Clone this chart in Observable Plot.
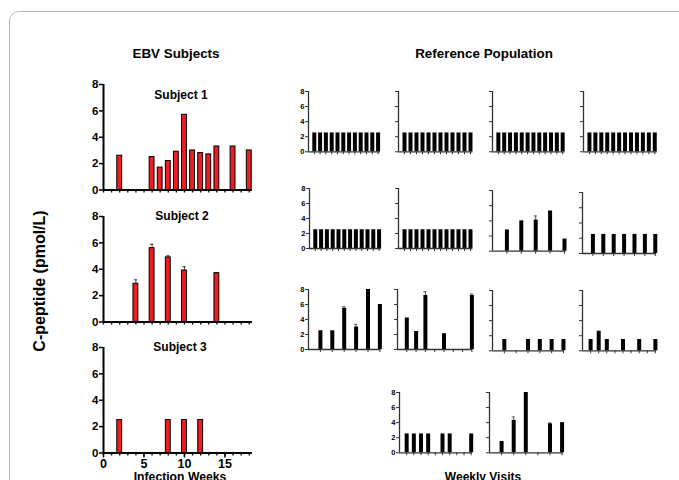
<!DOCTYPE html>
<html><head><meta charset="utf-8">
<script src="https://cdn.jsdelivr.net/npm/d3@7"></script>
<script src="https://cdn.jsdelivr.net/npm/@observablehq/plot@0.6"></script>
<style>
body{margin:0;background:#fff;}
#root{position:relative;width:679px;height:480px;overflow:hidden;background:#fff;font-family:Arial,"Liberation Sans",sans-serif;font-weight:bold;color:#000;}
.frame{position:absolute;left:9px;top:11px;width:720px;height:520px;border:1px solid #b5b5b5;border-radius:10px;}
.lbl{position:absolute;white-space:nowrap;transform:translate(-50%,-50%);line-height:1;}
.panel{position:absolute;}
</style></head><body><div id="root"><div class="frame"></div></div>
<script>
// ---------- DATA ----------
const subjectNames = ["Subject 1", "Subject 2", "Subject 3"];
const subject1Weeks = [2, 6, 7, 8, 9, 10, 11, 12, 13, 14, 16, 18];
const subject1Values = [2.6, 2.5, 1.7, 2.2, 2.9, 5.7, 3.0, 2.8, 2.7, 3.3, 3.3, 3.0];
const subject2Weeks = [4, 6, 8, 10, 14];
const subject2Values = [2.9, 5.6, 4.9, 3.9, 3.7];
const subject2Errors = [0.3, 0.3, 0.12, 0.3, 0.05];
const subject3Weeks = [2, 8, 10, 12];
const subject3Values = [2.5, 2.5, 2.5, 2.5];
const weekTicks = [0,1,2,3,4,5,6,7,8,9,10,11,12,13,14,15,16,17,18];
const weekLabels = [0, 5, 10, 15];
const yTicks = [0, 2, 4, 6, 8];

// Reference population: value per weekly visit (null = no sample)
const refR1C1 = [2.5,2.5,2.5,2.5,2.5,2.5,2.5,2.5,2.5,2.5,2.5,2.5];
const refR1C2 = [2.5,2.5,2.5,2.5,2.5,2.5,2.5,2.5,2.5,2.5,2.5,2.5];
const refR1C3 = [2.5,2.5,2.5,2.5,2.5,2.5,2.5,2.5,2.5,2.5,2.5,2.5];
const refR1C4 = [2.5,2.5,2.5,2.5,2.5,2.5,2.5,2.5,2.5,2.5,2.5,2.5];
const refR2C1 = [2.5,2.5,2.5,2.5,2.5,2.5,2.5,2.5,2.5,2.5,2.5,2.5];
const refR2C2 = [2.5,2.5,2.5,2.5,2.5,2.5,2.5,2.5,2.5,2.5,2.5,2.5];
const refR2C3 = [2.8, 4.0, 4.1, 5.3, 1.6];
const refR2C3Err = [0, 0, 0.55, 0, 0];
const refR2C4 = [2.5,2.5,2.5,2.5,2.5,2.5,2.5];
const refR3C1 = [2.5, 2.5, 5.5, 3.0, 8.0, 6.0];
const refR3C1Err = [0, 0, 0.2, 0.35, 0, 0];
const refR3C2 = [4.2, 2.4, 7.2, null, 2.1, null, null, 7.2];
const refR3C2Err = [0, 0, 0.5, 0, 0, 0, 0, 0.2];
const refR3C3 = [1.5, null, 1.5, 1.5, 1.5, 1.5];
const refR3C4 = [1.5, 2.6, 1.5, null, 1.5, null, 1.5, null, 1.5];
const refR4C2 = [2.5, 2.5, 2.5, 2.5, null, 2.5, 2.5, null, null, 2.5];
const refR4C3 = [1.5, 4.3, 8.0, null, 3.85, 4.0];
const refR4C3Err = [0, 0.45, 0, 0, 0.1, 0];

// ---------- HELPERS ----------
const root = document.getElementById("root");
const FONT = "Arial, 'Liberation Sans', sans-serif";
const SVG_STYLE = {background: "transparent", color: "#000", fontFamily: FONT, fontWeight: "bold", overflow: "visible", maxWidth: "none"};

function label(text, x, y, size, rotate) {
  const d = document.createElement("div");
  d.className = "lbl";
  d.textContent = text;
  d.style.left = x + "px";
  d.style.top = y + "px";
  d.style.fontSize = size + "px";
  if (rotate) d.style.transform = "translate(-50%,-50%) rotate(-90deg)";
  root.appendChild(d);
}

function place(svg, left, top) {
  const div = document.createElement("div");
  div.className = "panel";
  div.style.left = left + "px";
  div.style.top = top + "px";
  div.appendChild(svg);
  root.appendChild(div);
}

const mL = 30, mR = 8, mT = 6, mB = 22;

function subjectPanel(weeks, values, errors, left, top, showWeekLabels) {
  const data = weeks.map((w, i) => ({week: w, value: values[i], err: errors ? errors[i] : 0}));
  const errData = data.filter(d => d.err > 0);
  const xMax = 18.4, plotW = 149, plotH = 105.5;
  const svg = Plot.plot({
    width: mL + plotW + mR, height: mT + plotH + mB,
    marginLeft: mL, marginRight: mR, marginTop: mT, marginBottom: mB,
    x: {domain: [0, xMax], axis: null},
    y: {domain: [0, 8], axis: null},
    style: SVG_STYLE,
    marks: [
      Plot.ruleX(errData, {x: "week", y1: "value", y2: d => d.value + d.err, stroke: "#444", strokeWidth: 1}),
      Plot.ruleY(errData, {y: d => d.value + d.err, x1: d => d.week - 0.2, x2: d => d.week + 0.2, stroke: "#444", strokeWidth: 1}),
      Plot.rect(data, {x1: d => d.week - 0.3, x2: d => d.week + 0.3, y1: 0, y2: "value", fill: "#ee1c24", stroke: "#000", strokeWidth: 1}),
      Plot.axisY({ticks: yTicks, tickSize: 4, tickFormat: () => "", stroke: "#000", strokeWidth: 1.5, label: null, anchor: "left"}),
      Plot.text(yTicks, {x: 0, y: d => d, text: d => String(d), textAnchor: "end", dx: -5, fontSize: 11.5, fontWeight: "bold", fill: "#000"}),
      Plot.axisX({ticks: weekTicks, tickSize: 3, tickFormat: () => "", stroke: "#000", strokeWidth: 1.3, label: null, anchor: "bottom"}),
      showWeekLabels
        ? Plot.axisX({ticks: weekLabels, tickSize: 5, tickFormat: () => "", stroke: "#000", strokeWidth: 1.5, label: null, anchor: "bottom"})
        : null,
      showWeekLabels
        ? Plot.text(weekLabels, {x: d => d, y: 0, text: d => String(d), dy: 10.5, fontSize: 12.5, fontWeight: "bold", fill: "#000"})
        : null,
      Plot.ruleX([0], {y1: 0, y2: 8, stroke: "#000", strokeWidth: 2}),
      Plot.ruleY([0], {x1: 0, x2: xMax, stroke: "#000", strokeWidth: 2})
    ]
  });
  place(svg, left - mL, top - mT);
}

function refPanel(values, errors, left, top, plotH, step, xMax, showLabels) {
  const data = values.map((v, i) => ({visit: i + 1, value: v, err: errors ? errors[i] : 0}))
                     .filter(d => d.value != null);
  const errData = data.filter(d => d.err > 0);
  const visitTicks = values.map((v, i) => i + 1);
  const plotW = step * xMax;
  const svg = Plot.plot({
    width: mL + plotW + mR, height: mT + plotH + mB,
    marginLeft: mL, marginRight: mR, marginTop: mT, marginBottom: mB,
    x: {domain: [0, xMax], axis: null},
    y: {domain: [0, 8], axis: null},
    style: SVG_STYLE,
    marks: [
      Plot.ruleX(errData, {x: "visit", y1: "value", y2: d => d.value + d.err, stroke: "#555", strokeWidth: 1}),
      Plot.ruleY(errData, {y: d => d.value + d.err, x1: d => d.visit - 1.5 / step, x2: d => d.visit + 1.5 / step, stroke: "#555", strokeWidth: 1}),
      Plot.ruleX(data, {x: "visit", y1: 0, y2: "value", stroke: "#000", strokeWidth: 4}),
      Plot.axisY({ticks: yTicks, tickSize: 3, tickFormat: () => "", stroke: "#333", strokeWidth: 1, label: null, anchor: "left"}),
      showLabels
        ? Plot.text(yTicks, {x: 0, y: d => d, text: d => String(d), textAnchor: "end", dx: -4, fontSize: 7.5, fontWeight: "bold", fill: "#000"})
        : null,
      Plot.axisX({ticks: visitTicks, tickSize: 3, tickFormat: () => "", stroke: "#333", strokeWidth: 1, label: null, anchor: "bottom"}),
      Plot.ruleX([0], {y1: 0, y2: 8, stroke: "#333", strokeWidth: 1.3}),
      Plot.ruleY([0], {x1: 0, x2: xMax, stroke: "#333", strokeWidth: 1.3})
    ]
  });
  place(svg, left - mL, top - mT);
}

// ---------- EBV SUBJECTS ----------
subjectPanel(subject1Weeks, subject1Values, null, 103, 84, false);
subjectPanel(subject2Weeks, subject2Values, subject2Errors, 103, 215.5, false);
subjectPanel(subject3Weeks, subject3Values, null, 103, 347, true);
label(subjectNames[0], 181, 94.5, 12);
label(subjectNames[1], 182, 215.5, 12);
label(subjectNames[2], 180, 347, 12);

// ---------- REFERENCE POPULATION ----------
refPanel(refR1C1, null, 308.3, 90.7, 60.3, 5.8, 12.4, true);
refPanel(refR1C2, null, 398.3, 90.7, 60.3, 6.0, 12.4, false);
refPanel(refR1C3, null, 491.7, 90.7, 60.3, 5.85, 12.4, false);
refPanel(refR1C4, null, 582.7, 90.7, 60.3, 5.94, 12.4, false);
refPanel(refR2C1, null, 309, 188.3, 60, 5.8, 12.4, true);
refPanel(refR2C2, null, 398.3, 188.3, 60, 6.0, 12.4, false);
refPanel(refR2C3, refR2C3Err, 491.7, 190, 60.7, 14.4, 5.1, false);
refPanel(refR2C4, null, 581.7, 192.3, 61, 10.4, 7.1, false);
refPanel(refR3C1, refR3C1Err, 307.7, 289, 60, 11.9, 6.1, true);
refPanel(refR3C2, refR3C2Err, 397.3, 289, 60, 9.3, 8.1, false);
refPanel(refR3C3, null, 491.7, 290, 60.3, 11.83, 6.1, false);
refPanel(refR3C4, null, 581.7, 290, 60.3, 8.1, 9.1, false);
refPanel(refR4C2, null, 399.3, 392, 60.3, 7.17, 10.15, true);
refPanel(refR4C3, refR4C3Err, 489.3, 392, 60.3, 12.1, 6.1, false);

// ---------- TITLES ----------
label("EBV Subjects", 176, 54, 13.4);
label("Reference Population", 484, 54, 13.4);
label("C-peptide (pmol/L)", 40, 281, 16, true);
label("Infection Weeks", 180, 476.5, 12.2);
label("Weekly Visits", 483, 476.5, 12);
</script></body></html>
